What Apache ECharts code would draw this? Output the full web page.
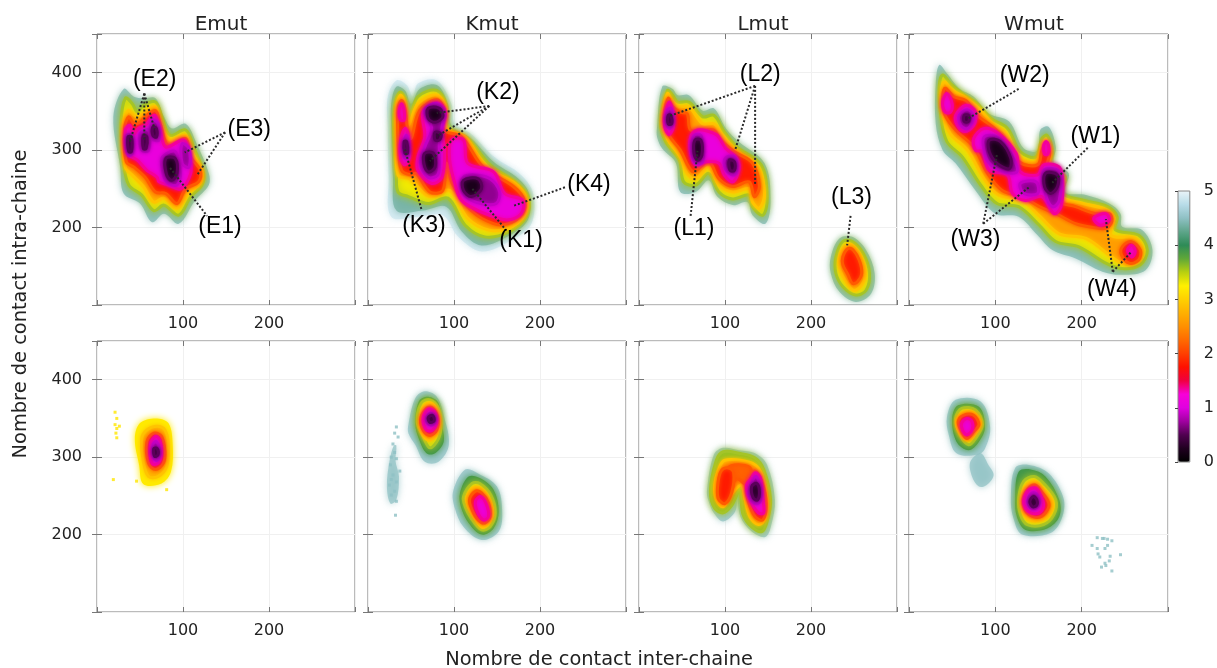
<!DOCTYPE html>
<html><head><meta charset="utf-8">
<script src="https://cdn.jsdelivr.net/npm/echarts@6/dist/echarts.min.js"></script>
<style>html,body{margin:0;padding:0;background:#fff}#c{width:1217px;height:668px}</style></head>
<body><div id="c"></div>
<script>
const panelNames=['Emut','Kmut','Lmut','Wmut'];
const xTitle='Nombre de contact inter-chaine';
const yTitle='Nombre de contact intra-chaine';
const barStops=['#000000','#200020','#500050','#a000a0','#e000e0','#f800d8','#f00040','#ff1000','#ff4000','#ff6a00','#ff9000','#ffb000','#ffd000','#fff000','#b8d010','#60a838','#2e8b57','#5ea58a','#8fc0c4','#b8dce8','#eaf4f8'];
// free-energy contours: [level, [[x,y],...]] outermost first
const emutTop=[
[4.4,[[19,343],[31,379],[43,369],[54,367],[68,367],[78,343],[87,328],[103,334],[116,308],[130,270],[130,255],[114,235],[95,205],[78,218],[64,207],[50,231],[31,244],[27,278]]],
[3.3,[[28,334],[33,367],[41,360],[47,349],[54,358],[68,362],[76,341],[85,319],[103,326],[113,302],[124,270],[122,255],[109,240],[95,216],[78,229],[66,222],[52,242],[37,255],[31,283]]],
[2.6,[[30,328],[36,351],[43,345],[48,343],[56,349],[68,356],[74,334],[85,313],[103,319],[111,296],[122,274],[120,257],[107,246],[93,225],[78,238],[66,233],[54,253],[41,268],[33,278]]],
[1.8,[[32,328],[37,343],[43,334],[50,336],[56,343],[68,351],[74,332],[83,306],[103,315],[109,291],[120,274],[118,259],[103,250],[93,231],[80,244],[68,246],[56,265],[43,278],[34,285]]],
[1.1,[[33,326],[38,332],[43,321],[48,328],[56,332],[67,345],[73,328],[80,304],[101,313],[108,291],[109,270],[97,250],[83,255],[72,259],[70,265],[58,274],[47,287],[35,296]]],
[.7,[[35,319],[40,319],[41,296],[37,293]]],[.7,[[50,321],[60,326],[60,300],[52,300]]],[.7,[[64,339],[71,334],[72,313],[64,315]]],[.7,[[76,291],[91,298],[97,270],[93,255],[81,259],[76,274]]],[.7,[[99,308],[107,302],[107,278],[99,283]]],
[.2,[[36,317],[40,317],[40,298],[37,298]]],[.2,[[54,319],[58,317],[57,302],[54,302]]],[.2,[[65,330],[69,328],[69,317],[65,319]]],[.2,[[80,289],[91,289],[93,270],[87,261],[81,268]]]];
const kmutTop=[
[4.85,[[23,369],[33,390],[45,384],[52,369],[58,386],[80,390],[97,360],[101,334],[120,321],[147,291],[178,268],[192,244],[190,205],[167,184],[132,169],[105,188],[87,216],[58,214],[27,214],[24,265],[23,330]]],
[4.35,[[27,360],[33,382],[43,377],[50,360],[60,379],[80,384],[93,360],[97,332],[120,315],[146,285],[175,263],[188,242],[186,210],[165,190],[132,177],[109,195],[91,227],[64,222],[33,222],[29,265],[27,330]]],
[3.3,[[31,356],[37,375],[43,367],[48,341],[58,369],[80,377],[91,358],[93,330],[116,315],[142,281],[171,259],[186,240],[184,214],[163,194],[136,188],[113,203],[93,238],[70,231],[47,240],[35,246],[33,270],[30,317]]],
[2.6,[[33,356],[38,371],[43,360],[47,332],[58,360],[80,371],[91,354],[91,328],[113,317],[138,278],[171,257],[184,238],[182,216],[163,199],[140,197],[116,212],[95,248],[72,240],[54,257],[48,263],[35,268],[33,313]]],
[1.8,[[35,354],[39,364],[43,354],[46,328],[50,315],[60,351],[80,365],[89,351],[88,326],[109,317],[134,278],[169,253],[182,235],[180,218],[163,205],[146,205],[120,222],[98,257],[91,283],[87,248],[72,246],[56,270],[50,268],[39,274],[35,311]]],
[1.1,[[36,349],[39,360],[42,351],[42,339],[38,339]]],[1.1,[[38,313],[43,328],[47,319],[48,291],[43,281],[38,289]]],[1.1,[[64,349],[80,361],[90,349],[86,326],[89,300],[86,265],[74,257],[58,274],[58,291],[66,317]]],[1.1,[[97,313],[111,313],[116,283],[146,272],[159,244],[180,235],[178,218],[163,210],[147,214],[128,222],[109,235],[101,257],[95,287]]],
[.7,[[41,308],[45,319],[47,304],[46,289],[42,291]]],[.7,[[66,351],[80,360],[88,347],[86,330],[83,311],[83,287],[81,268],[70,265],[61,283],[66,304],[74,328]]],[.7,[[111,265],[124,268],[142,263],[153,246],[149,231],[132,231],[116,238],[109,250]]],
[.2,[[42,311],[45,311],[46,296],[43,296]]],[.2,[[70,354],[83,354],[87,343],[78,336],[70,341]]],[.2,[[78,323],[85,321],[83,313],[78,313]]],[.2,[[66,296],[76,296],[78,278],[70,272],[65,283]]],[.2,[[111,261],[128,263],[132,250],[120,240],[111,248]]]];
const lmutTop=[
[4.4,[[21,330],[27,382],[39,379],[45,371],[58,371],[74,351],[87,354],[101,328],[116,311],[146,283],[153,235],[147,205],[132,216],[126,233],[109,229],[91,240],[81,261],[66,246],[48,246],[43,283],[27,302],[21,317]]],
[4.4,[[223,162],[233,186],[248,188],[264,171],[274,141],[270,115],[252,104],[233,117],[223,141]]],
[3.3,[[25,334],[33,377],[39,371],[45,362],[58,362],[74,343],[87,345],[99,324],[114,304],[142,281],[149,238],[144,216],[132,227],[128,242],[109,237],[93,246],[81,270],[66,255],[52,259],[47,287],[31,311]]],
[3.3,[[229,162],[237,182],[248,182],[261,166],[268,141],[264,119],[252,113],[237,124],[229,141]]],
[2.6,[[27,336],[33,373],[39,362],[47,356],[58,356],[74,334],[87,334],[97,319],[113,300],[138,278],[146,244],[140,225],[132,233],[128,250],[109,246],[93,255],[81,278],[66,263],[56,270],[48,291],[33,315]]],
[2.6,[[233,162],[241,177],[248,177],[258,162],[263,141],[259,126],[250,119],[241,130],[234,145]]],
[1.8,[[29,339],[34,367],[39,356],[48,349],[56,347],[60,326],[76,326],[87,326],[95,313],[111,298],[132,283],[140,253],[134,240],[128,259],[109,253],[93,263],[81,285],[64,272],[58,278],[48,300],[35,319]]],
[1.8,[[237,162],[243,173],[249,171],[256,158],[259,141],[254,130],[248,128],[243,139],[237,152]]],
[1.1,[[30,343],[35,362],[40,347],[40,330],[35,320],[30,330]]],[1.1,[[60,317],[68,326],[81,324],[91,319],[101,302],[114,289],[116,274],[109,259],[99,268],[93,283],[78,285],[66,281],[60,296]]],
[.7,[[33,351],[37,354],[39,339],[36,328],[32,334]]],[.7,[[64,319],[72,319],[74,302],[74,285],[66,283],[61,300]]],[.7,[[102,291],[111,291],[114,278],[111,268],[103,272],[99,283]]],
[.2,[[34,345],[37,345],[38,334],[34,334]]],[.2,[[65,313],[72,313],[73,293],[68,287],[64,296]]],[.2,[[105,287],[111,285],[111,274],[106,274]]]];
const wmutTop=[
[4.4,[[31,386],[35,410],[44,399],[58,380],[75,369],[93,347],[116,337],[133,302],[149,300],[152,326],[162,330],[170,304],[168,283],[185,270],[181,246],[205,242],[232,231],[245,218],[247,201],[270,197],[282,171],[274,145],[247,139],[224,143],[193,160],[166,171],[149,190],[127,214],[100,218],[77,248],[54,283],[39,300],[31,334]]],
[3.3,[[35,382],[39,397],[48,386],[62,373],[79,360],[95,341],[114,328],[129,298],[147,291],[154,315],[160,319],[166,300],[164,278],[181,266],[178,244],[203,235],[230,227],[241,214],[239,197],[266,190],[276,171],[268,152],[247,147],[228,154],[197,175],[170,182],[151,203],[127,227],[102,231],[83,255],[62,291],[44,311],[37,343]]],
[2.6,[[37,373],[41,388],[50,377],[64,369],[81,354],[97,334],[112,322],[127,291],[147,285],[154,306],[159,313],[164,298],[162,276],[178,263],[174,240],[201,231],[228,223],[237,212],[234,190],[262,186],[270,171],[262,156],[247,154],[235,162],[205,186],[174,192],[152,214],[131,235],[104,242],[87,263],[68,300],[48,321],[39,347]]],
[1.8,[[39,369],[42,380],[52,369],[66,364],[79,345],[97,330],[110,315],[127,285],[149,281],[154,300],[159,309],[163,296],[160,276],[176,261],[172,235],[193,227],[216,218],[232,218],[235,208],[228,199],[208,201],[193,205],[170,218],[151,227],[131,240],[108,248],[91,270],[75,304],[54,326],[41,347]]],
[1.8,[[247,175],[257,182],[268,171],[266,158],[255,154],[246,165]]],
[1.1,[[39,362],[44,373],[50,360],[48,349],[42,349]]],[1.1,[[54,345],[66,358],[77,349],[75,332],[64,324],[56,332]]],[1.1,[[75,315],[87,328],[104,321],[124,296],[129,272],[149,268],[156,281],[174,278],[178,257],[176,227],[168,218],[154,240],[135,235],[120,244],[114,268],[93,274],[85,298],[77,300]]],[1.1,[[156,306],[159,311],[162,304],[161,295],[157,295]]],[1.1,[[214,212],[228,218],[232,210],[222,203]]],[1.1,[[253,171],[258,177],[262,169],[258,162]]],
[.7,[[58,345],[68,352],[75,343],[68,328],[60,332]]],[.7,[[87,317],[102,317],[120,291],[125,272],[110,272],[93,283],[87,300]]],[.7,[[129,257],[147,259],[149,244],[133,244]]],[.7,[[156,274],[174,272],[174,235],[166,227],[158,244]]],
[.2,[[64,345],[69,345],[69,337],[64,337]]],[.2,[[93,313],[106,311],[118,289],[116,276],[102,283],[93,298]]],[.2,[[158,270],[172,268],[172,253],[164,244],[157,253]]]];
const emutBottom=[
[3.2,[[44,324],[50,344],[68,350],[83,344],[88,316],[86,281],[75,266],[54,265],[49,290]]],
[2.7,[[52,324],[58,335],[70,340],[79,335],[83,316],[81,288],[71,275],[60,275],[54,294]]],
[1.8,[[58,320],[66,331],[75,327],[79,307],[77,292],[68,284],[60,292]]],
[1.1,[[62,316],[68,327],[73,322],[75,305],[71,292],[64,292]]],
[.7,[[65,316],[69,320],[73,307],[70,296],[66,299]]],
[.2,[[66,311],[70,311],[71,303],[67,301]]]];
const kmutBottom=[
[4.5,[[47,342],[55,376],[66,385],[80,378],[88,354],[94,316],[82,294],[66,294],[55,316],[47,331]]],
[4.5,[[99,256],[113,284],[128,279],[150,262],[156,230],[152,204],[132,193],[111,210],[101,234]]],
[4.5,[[26,240],[22,262],[25,295],[30,315],[33,315],[32,295],[36,275],[33,245]]],
[3.9,[[55,342],[59,372],[70,378],[82,370],[86,342],[88,320],[78,305],[68,305],[59,324]]],
[3.9,[[107,254],[117,275],[130,273],[146,258],[152,230],[146,208],[132,200],[117,215],[108,236]]],
[3.3,[[57,346],[62,370],[72,374],[82,363],[85,342],[82,324],[72,312],[64,327]]],
[3.3,[[111,249],[121,266],[130,266],[143,251],[148,228],[142,210],[132,206],[120,221],[113,236]]],
[2.6,[[60,346],[65,365],[73,370],[81,359],[83,342],[78,327],[70,322],[62,333]]],
[2.6,[[115,247],[122,260],[130,260],[140,247],[145,228],[140,215],[132,210],[122,226],[117,236]]],
[1.8,[[61,348],[67,362],[74,364],[81,352],[80,335],[72,328],[65,333]]],
[1.8,[[118,245],[125,256],[132,254],[140,241],[142,223],[136,215],[128,219],[121,232]]],
[1.1,[[64,350],[70,362],[77,359],[80,346],[75,335],[68,335]]],
[1.1,[[125,243],[131,249],[138,238],[140,223],[134,219],[127,230]]],
[.7,[[68,350],[73,357],[78,350],[76,342],[70,343]]],
[.2,[[70,351],[75,354],[77,347],[72,345]]]];
const lmutBottom=[
[4.5,[[79,256],[87,303],[98,312],[116,309],[135,305],[149,290],[158,245],[154,213],[147,197],[131,204],[118,223],[114,251],[112,230],[98,217],[87,228],[81,243]]],
[3.6,[[83,256],[90,296],[98,307],[116,305],[135,299],[145,284],[153,245],[149,217],[143,204],[131,210],[121,226],[117,256],[108,238],[98,228],[88,234]]],
[2.6,[[88,264],[94,288],[100,296],[118,296],[135,290],[143,277],[149,245],[147,221],[139,213],[129,223],[123,247],[119,264],[108,253],[98,236],[90,245]]],
[2.2,[[104,286],[118,290],[130,285],[125,265],[114,272],[106,262]]],
[1.8,[[92,268],[96,283],[104,286],[110,280],[108,255],[100,240],[92,247]]],
[1.8,[[127,275],[135,282],[143,268],[148,240],[144,219],[135,223],[127,243],[124,262]]],
[1.1,[[131,273],[135,280],[141,273],[144,247],[145,228],[139,228],[129,245],[125,264]]],
[.7,[[130,264],[136,275],[141,260],[141,243],[135,240],[128,251]]],
[.2,[[131,262],[137,266],[140,256],[138,245],[133,247]]]];
const wmutBottom=[
[4.5,[[44,352],[54,374],[83,372],[94,339],[88,311],[79,303],[55,305],[46,329]]],
[4.5,[[71,294],[83,305],[92,290],[98,277],[90,264],[81,262],[73,275]]],
[4.5,[[118,247],[123,286],[139,290],[162,279],[179,247],[177,221],[164,202],[131,200],[121,221]]],
[3.9,[[50,350],[57,367],[81,365],[88,339],[81,320],[69,309],[55,320]]],
[3.9,[[123,247],[127,281],[141,284],[158,275],[174,245],[174,223],[160,208],[135,206],[125,223]]],
[3.3,[[54,350],[61,363],[77,361],[85,342],[77,324],[69,316],[59,329]]],
[3.3,[[127,247],[133,269],[145,275],[156,266],[170,245],[168,226],[156,213],[137,213],[129,226]]],
[2.6,[[55,346],[62,357],[75,357],[83,344],[77,331],[68,322],[59,331]]],
[2.6,[[130,245],[135,262],[145,269],[154,260],[166,243],[164,228],[154,219],[139,219],[132,230]]],
[1.8,[[57,346],[63,354],[75,354],[81,342],[75,333],[67,324],[60,335]]],
[1.8,[[132,245],[137,258],[146,264],[153,256],[162,240],[158,228],[149,222],[139,226],[134,232]]],
[1.1,[[61,344],[67,350],[73,346],[73,335],[67,329],[62,335]]],
[1.1,[[133,245],[139,258],[147,260],[153,249],[156,238],[151,228],[141,228],[135,234]]],
[.7,[[138,245],[143,254],[149,251],[151,241],[146,234],[140,236]]],
[.2,[[140,243],[144,249],[148,245],[148,238],[143,236]]]];
const contours=[emutTop,kmutTop,lmutTop,wmutTop,emutBottom,kmutBottom,lmutBottom,wmutBottom];
// isolated visits read one by one: x, y
const emutStray=[[21,358],[23,350],[21,342],[26,340],[23,337],[22,331],[23,325],[19,271],[46,269],[81,258]];
const kmutStray=[[33,339],[31,331],[35,326],[29,317],[31,306],[27,300],[33,298],[26,290],[37,282],[29,277],[27,271],[33,268],[25,264],[31,256],[27,251],[33,243],[32,225]];
const wmutStray=[[218,196],[224,195],[226,195],[230,194],[235,192],[212,186],[218,182],[227,182],[230,186],[219,175],[221,171],[233,172],[245,174],[232,166],[227,163],[228,160],[223,158],[235,153]];
// annotations (top row)
const emutNotes=[['(E2)',67,391],['(E3)',177,326],['(E1)',143,201]];
const kmutNotes=[['(K2)',151,374],['(K4)',257,256],['(K3)',65,202],['(K1)',178,183]];
const lmutNotes=[['(L2)',141,398],['(L1)',64,198],['(L3)',247,238]];
const wmutNotes=[['(W2)',134,396],['(W1)',216,318],['(W3)',77,184],['(W4)',235,120]];
const emutLinks=[[55,373,38,310],[55,373,55,312],[55,373,67,327],[149,323,102,297],[149,323,116,267],[85,277,128,215]];
const kmutLinks=[[141,357,80,348],[141,357,80,318],[141,357,72,286],[62,224,43,301],[161,196,120,252],[229,252,169,228]];
const lmutLinks=[[135,383,35,344],[135,383,112,301],[135,383,135,254],[60,215,68,299],[246,215,242,177]];
const wmutLinks=[[127,379,67,340],[207,303,166,258],[86,205,102,295],[86,205,139,252],[236,143,228,211],[236,143,257,168]];
const notes=[emutNotes,kmutNotes,lmutNotes,wmutNotes];
const links=[emutLinks,kmutLinks,lmutLinks,wmutLinks];

const lefts=[97,368,639,909], widths=[258,258,258,259], tops=[34,341], H=271;
const titleCentres=[216,487,758,1029];
const grids=[],xAxes=[],yAxes=[],series=[],titles=[];
const heatIdx=[];
const tick={inside:true,length:5,lineStyle:{color:'#777'}};
const font={fontFamily:'DejaVu Sans',fontSize:16,color:'#222'};
// rim colour of each contour: the colour-bar shade just above it
function rim(level){
  if(level>3.6||level===3.2)return null;
  if(level>3)return '#a4c428';
  if(level>2.4)return '#ffc400';
  if(level>1.5)return '#ff5a00';
  if(level>.9)return '#f4009a';
  if(level>.4)return '#c400c4';
  return '#5a005a';
}
function renderContour(list){
  return (p,api)=>{
    const level=api.value(0), color=api.visual('color'), edge=rim(level);
    const pts=list[p.dataIndex][1].map(q=>api.coord(q));
    return {type:'polygon',shape:{points:pts,smooth:.35},
      style:{fill:color,stroke:edge||color,lineWidth:edge?3:0,shadowBlur:level>3?7:4,shadowColor:edge||color,opacity:level>4?.72:1}};
  };
}
for(let r=0;r<2;r++)for(let c=0;c<4;c++){
  const g=grids.length;
  grids.push({left:lefts[c],top:tops[r],width:widths[c],height:H,show:true,borderColor:'#777',borderWidth:1,backgroundColor:'#fff'});
  xAxes.push({gridIndex:g,type:'value',min:0,max:300,interval:100,axisLine:{show:false},axisTick:tick,
    splitLine:{show:true,lineStyle:{color:'#f0f0f0',width:1}},
    axisLabel:{...font,margin:11,formatter:v=>(v===100||v===200)?String(v):''}});
  yAxes.push({gridIndex:g,type:'value',min:100,max:450,interval:100,axisLine:{show:false},axisTick:tick,
    splitLine:{show:true,lineStyle:{color:'#f0f0f0',width:1}},
    axisLabel:{show:c===0,...font,margin:15,formatter:v=>(v>=200&&v<=400)?String(v):''}});
  heatIdx.push(series.length);
  series.push({type:'custom',xAxisIndex:g,yAxisIndex:g,coordinateSystem:'cartesian2d',clip:true,silent:true,animation:false,
    data:contours[g].map(k=>[k[0]]),renderItem:renderContour(contours[g]),z:2});
  const stray=g===4?emutStray:g===5?kmutStray:g===7?wmutStray:null;
  if(stray)series.push({type:'scatter',xAxisIndex:g,yAxisIndex:g,symbol:'rect',symbolSize:3,silent:true,animation:false,
    itemStyle:{color:g===4?'#ffe600':'#8fc0c4'},data:stray,z:3});
  if(r===0){
    series.push({type:'custom',xAxisIndex:g,yAxisIndex:g,coordinateSystem:'cartesian2d',silent:true,animation:false,z:5,data:links[c],encode:{x:[0,2],y:[1,3]},
      renderItem:(p,api)=>{const a=api.coord([api.value(0),api.value(1)]),b=api.coord([api.value(2),api.value(3)]);
        return {type:'line',shape:{x1:a[0],y1:a[1],x2:b[0],y2:b[1]},style:{stroke:'#2a2a2a',lineWidth:2,lineDash:[2,2],fill:null}};}});
    series.push({type:'scatter',xAxisIndex:g,yAxisIndex:g,symbolSize:1,silent:true,animation:false,z:6,itemStyle:{color:'rgba(0,0,0,0)'},
      data:notes[c].map(n=>({name:n[0],value:[n[1],n[2]]})),
      label:{show:true,position:'inside',formatter:'{b}',fontFamily:'Liberation Sans',fontSize:23,color:'#000',opacity:1}});
    titles.push({text:panelNames[c],left:titleCentres[c],top:10,textAlign:'center',textStyle:{fontFamily:'DejaVu Sans',fontSize:20,fontWeight:'normal',color:'#222'}});
  }
}
// colour bar frame + axis
const gb=grids.length;
grids.push({left:1178,top:191,width:12,height:271,show:true,borderColor:'#888',borderWidth:1,backgroundColor:'transparent',z:10});
xAxes.push({gridIndex:gb,type:'value',show:false,min:0,max:1});
yAxes.push({gridIndex:gb,type:'value',min:0,max:5,interval:1,position:'right',axisLine:{show:false},splitLine:{show:false},
  axisTick:{inside:true,length:3,lineStyle:{color:'#444'}},axisLabel:{...font,margin:14},z:10});
// mirrored ticks on the top and right of every panel
for(let g=0;g<8;g++){
  xAxes.push({gridIndex:g,type:'value',position:'top',min:0,max:300,interval:100,axisLine:{show:false},axisTick:tick,splitLine:{show:false},axisLabel:{show:false}});
  yAxes.push({gridIndex:g,type:'value',position:'right',min:100,max:450,interval:100,axisLine:{show:false},axisTick:tick,splitLine:{show:false},axisLabel:{show:false}});
}
const chart=echarts.init(document.getElementById('c'),null,{renderer:'canvas'});
chart.setOption({animation:false,backgroundColor:'#fff',title:titles,grid:grids,xAxis:xAxes,yAxis:yAxes,series,
  visualMap:{type:'continuous',min:0,max:5,dimension:0,seriesIndex:heatIdx,left:1178,top:191,itemWidth:12,itemHeight:271,padding:0,text:null,showLabel:false,calculable:false,hoverLink:false,realtime:false,inRange:{color:barStops},textStyle:{fontSize:0},z:1},
  graphic:[
   {type:'text',x:599,y:660,style:{text:xTitle,font:'19.4px "DejaVu Sans"',fill:'#222',textAlign:'center',textVerticalAlign:'middle'}},
   {type:'text',x:21,y:304,rotation:Math.PI/2,style:{text:yTitle,font:'19.4px "DejaVu Sans"',fill:'#222',textAlign:'center',textVerticalAlign:'middle'}}
  ]});
</script></body></html>
